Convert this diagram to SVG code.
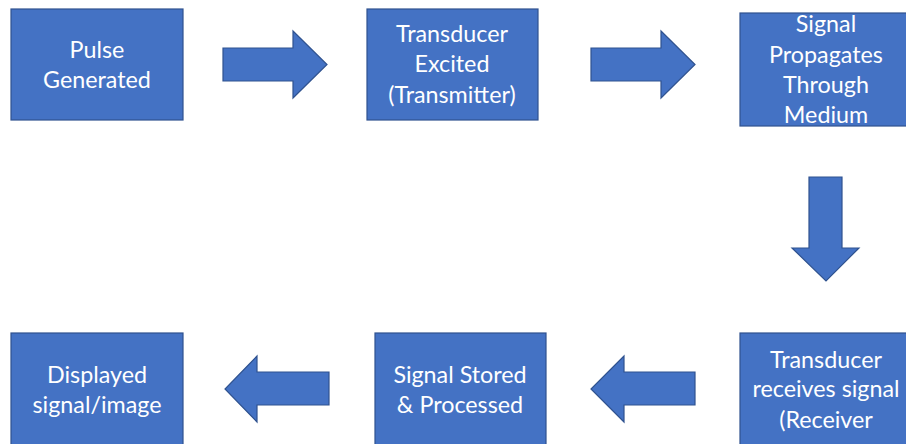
<svg xmlns="http://www.w3.org/2000/svg" width="906" height="444" viewBox="0 0 906 444">
  <style>
    .box { fill: #4472C4; stroke: #2F528F; stroke-width: 1.2; }
    .arrow { fill: #4472C4; stroke: #2F528F; stroke-width: 1.2; stroke-linejoin: miter; }
    .lbl { fill: #FFFFFF; font-family: Lato, "Open Sans", "Liberation Sans", sans-serif; font-size: 23.3px; text-anchor: middle; }
  </style>
  <rect width="906" height="444" fill="#FFFFFF"/>

  <g id="pulse-generated">
    <rect class="box" x="11" y="9" width="172" height="111"/>
    <text class="lbl" x="97" y="58">Pulse</text>
    <text class="lbl" x="97" y="88">Generated</text>
  </g>

  <g id="transducer-excited">
    <rect class="box" x="367" y="9" width="171" height="111"/>
    <text class="lbl" x="452" y="42">Transducer</text>
    <text class="lbl" x="452" y="72">Excited</text>
    <text class="lbl" x="452" y="103">(Transmitter)</text>
  </g>

  <g id="signal-propagates">
    <rect class="box" x="740" y="13" width="172" height="113"/>
    <text class="lbl" x="826" y="32">Signal</text>
    <text class="lbl" x="826" y="63">Propagates</text>
    <text class="lbl" x="826" y="93">Through</text>
    <text class="lbl" x="826" y="123">Medium</text>
  </g>

  <g id="transducer-receives">
    <rect class="box" x="740" y="333" width="172" height="120"/>
    <text class="lbl" x="826" y="368">Transducer</text>
    <text class="lbl" x="826" y="397">receives signal</text>
    <text class="lbl" x="826" y="428">(Receiver</text>
  </g>

  <g id="signal-stored">
    <rect class="box" x="375" y="333" width="171" height="120"/>
    <text class="lbl" x="460" y="383">Signal Stored</text>
    <text class="lbl" x="460" y="413">&amp; Processed</text>
  </g>

  <g id="displayed-image">
    <rect class="box" x="11" y="333" width="172" height="120"/>
    <text class="lbl" x="97" y="383">Displayed</text>
    <text class="lbl" x="97" y="413">signal/image</text>
  </g>

  <g id="connectors">
    <polygon class="arrow" points="223,48 293,48 293,31 327,64.5 293,98 293,81 223,81"/>
    <polygon class="arrow" points="591,48 661,48 661,31 695,64.5 661,98 661,81 591,81"/>
    <polygon class="arrow" points="809,177 842,177 842,248 859,248 826,281 792,248 809,248"/>
    <polygon class="arrow" points="695,372 624,372 624,356 591,389 624,422 624,405 695,405"/>
    <polygon class="arrow" points="329,372 257,372 257,356 225,389 257,422 257,405 329,405"/>
  </g>
</svg>
